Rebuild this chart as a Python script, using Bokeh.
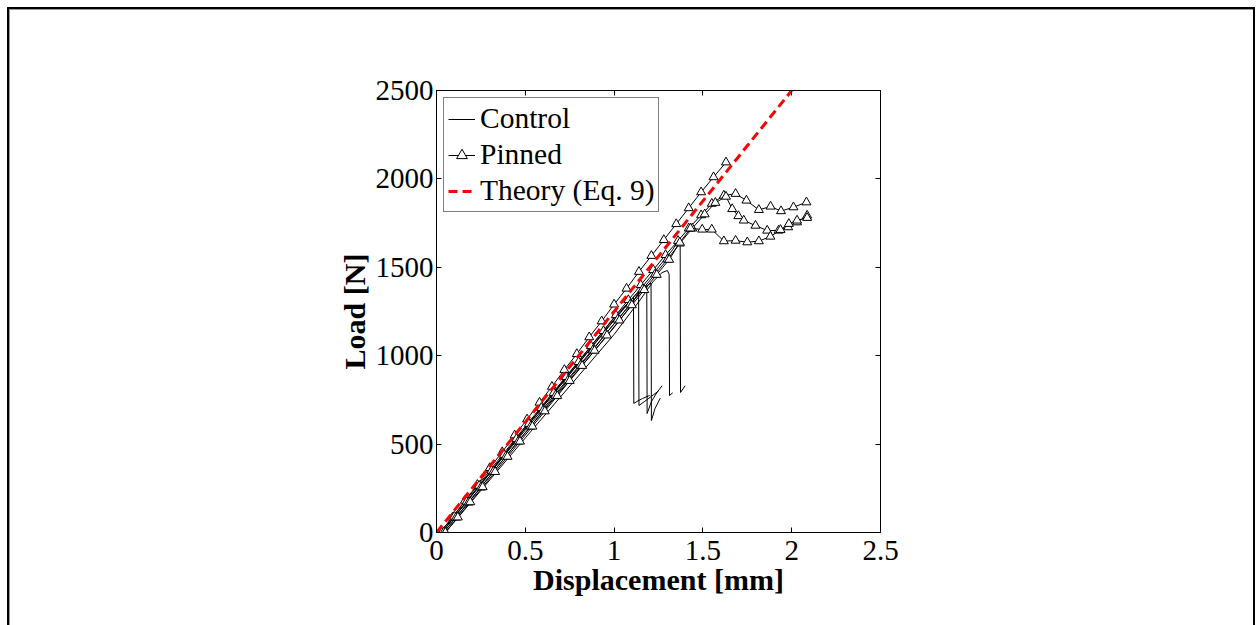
from bokeh.plotting import figure
from bokeh.embed import file_html
from bokeh.resources import INLINE
from bokeh.models import Range1d, LinearAxis, FixedTicker, Legend, LegendItem

# ---------------- data ----------------
x_ticks = [0, 0.5, 1, 1.5, 2, 2.5]
x_tick_labels = ["0", "0.5", "1", "1.5", "2", "2.5"]
y_ticks = [0, 500, 1000, 1500, 2000, 2500]
y_tick_labels = ["0", "500", "1000", "1500", "2000", "2500"]

# Control specimens (plain lines)
c1_x = [0, 0.03, 0.50, 1.00, 1.09, 1.109, 1.111, 1.13, 1.16, 1.20]
c1_y = [0, 0, 590, 1205, 1310, 1329, 730, 742, 758, 775]
c2_x = [0, 0.04, 0.50, 1.00, 1.10, 1.138, 1.140, 1.17, 1.21, 1.25]
c2_y = [0, 0, 565, 1160, 1290, 1360, 718, 740, 770, 800]
c3_x = [0, 0.03, 0.50, 1.00, 1.12, 1.184, 1.186, 1.21, 1.24, 1.27]
c3_y = [0, 0, 580, 1180, 1325, 1395, 673, 740, 790, 830]
c4_x = [0, 0.02, 0.50, 1.00, 1.15, 1.208, 1.210, 1.23, 1.26]
c4_y = [0, 0, 600, 1215, 1375, 1410, 633, 700, 760]
c5_x = [0, 0.05, 0.50, 1.00, 1.15, 1.22, 1.27, 1.30, 1.31, 1.312, 1.33]
c5_y = [0, 0, 535, 1120, 1320, 1420, 1470, 1482, 1460, 775, 790]
c6_x = [0, 0.03, 0.50, 1.00, 1.20, 1.33, 1.355, 1.372, 1.374, 1.40]
c6_y = [0, 0, 590, 1200, 1440, 1600, 1642, 1635, 792, 830]
control_x = [c1_x, c2_x, c3_x, c4_x, c5_x, c6_x]
control_y = [c1_y, c2_y, c3_y, c4_y, c5_y, c6_y]

# Pinned specimens (lines with triangle markers)
p1_x = [0.02, 0.09, 0.16, 0.23, 0.30, 0.37, 0.44, 0.51, 0.58, 0.65, 0.72, 0.79,
        0.86, 0.93, 1.00, 1.07, 1.14, 1.21, 1.28, 1.35, 1.42, 1.49, 1.56, 1.63]
p1_y = [0, 85, 180, 270, 365, 455, 550, 640, 735, 825, 920, 1010,
        1105, 1195, 1290, 1380, 1475, 1565, 1655, 1745, 1835, 1925, 2010, 2094]
p2_x = [0.03, 0.10, 0.17, 0.24, 0.31, 0.38, 0.45, 0.52, 0.59, 0.66, 0.73, 0.80,
        0.87, 0.94, 1.01, 1.08, 1.15, 1.22, 1.29, 1.36, 1.42, 1.49, 1.55, 1.618,
        1.684, 1.745, 1.815, 1.881, 1.94, 2.01, 2.083]
p2_y = [0, 90, 175, 265, 350, 440, 530, 615, 705, 790, 880, 965,
        1055, 1140, 1230, 1315, 1400, 1485, 1570, 1650, 1720, 1795, 1860, 1906,
        1916, 1878, 1825, 1844, 1818, 1840, 1868]
p3_x = [0.04, 0.11, 0.18, 0.25, 0.32, 0.39, 0.46, 0.53, 0.60, 0.67, 0.74, 0.81,
        0.88, 0.95, 1.02, 1.09, 1.16, 1.23, 1.30, 1.37, 1.44, 1.51, 1.57, 1.63,
        1.665, 1.70, 1.73, 1.796, 1.862, 1.926, 1.98, 2.03, 2.087]
p3_y = [0, 85, 170, 255, 345, 430, 515, 600, 690, 775, 860, 945,
        1030, 1120, 1205, 1290, 1375, 1460, 1545, 1635, 1720, 1800, 1865, 1900,
        1830, 1790, 1765, 1736, 1708, 1708, 1727, 1755, 1793]
p4_x = [0.05, 0.12, 0.19, 0.26, 0.33, 0.40, 0.47, 0.54, 0.61, 0.68, 0.75, 0.82,
        0.89, 0.96, 1.03, 1.10, 1.17, 1.24, 1.31, 1.37, 1.43, 1.496, 1.55, 1.618,
        1.684, 1.75, 1.815, 1.88, 1.937, 1.984, 2.03, 2.087]
p4_y = [0, 86, 172, 257, 343, 429, 515, 600, 686, 772, 858, 943,
        1029, 1115, 1200, 1286, 1372, 1458, 1543, 1640, 1720, 1714, 1714, 1648,
        1651, 1642, 1648, 1674, 1712, 1746, 1765, 1780]
pinned_x = [p1_x, p2_x, p3_x, p4_x]
pinned_y = [p1_y, p2_y, p3_y, p4_y]

# Theory (Eq. 9)
theory_x = [0, 2.0]
theory_y = [0, 2500]

# ---------------- figure ----------------
FONT = "Liberation Serif"

p = figure(width=1259, height=625,
           x_range=Range1d(0, 2.5), y_range=Range1d(0, 2500),
           output_backend="svg", toolbar_location=None,
           min_border_left=436, min_border_right=379,
           min_border_top=90, min_border_bottom=93,
           background_fill_color="white", border_fill_color=None)
# outer picture frame (left, top and right edges) drawn behind the canvas
p.styles = {
    "background":
        "linear-gradient(#000,#000) 7px 7px / 2px 100% no-repeat, "
        "linear-gradient(#000,#000) 1253px 7px / 2px 100% no-repeat, "
        "linear-gradient(#000,#000) 7px 7px / 1248px 2px no-repeat, "
        "linear-gradient(#999,#999) 9px 9px / 1px 100% no-repeat, "
        "linear-gradient(#999,#999) 9px 9px / 1244px 1px no-repeat, "
        "white"
}
p.xgrid.visible = False
p.ygrid.visible = False
p.outline_line_color = "black"
p.outline_line_width = 1


def style_axis(ax, ticks, labels, show_labels=True, standoff=3):
    ax.ticker = FixedTicker(ticks=ticks)
    ax.major_label_overrides = {t: l for t, l in zip(ticks, labels)}
    ax.major_tick_in = 5
    ax.major_tick_out = 0
    ax.minor_tick_line_color = None
    ax.axis_line_color = "black"
    ax.major_tick_line_color = "black"
    ax.major_label_text_font = FONT
    ax.major_label_text_font_size = "29px"
    ax.major_label_text_color = "black" if show_labels else None
    ax.major_label_standoff = standoff


style_axis(p.xaxis[0], x_ticks, x_tick_labels, standoff=8)
style_axis(p.yaxis[0], y_ticks, y_tick_labels, standoff=3)
p.xaxis[0].axis_label = "Displacement [mm]"
p.yaxis[0].axis_label = "Load [N]"
for ax in (p.xaxis[0], p.yaxis[0]):
    ax.axis_label_text_font = FONT
    ax.axis_label_text_font_size = "30px"
    ax.axis_label_text_font_style = "bold"
    ax.axis_label_text_color = "black"
p.xaxis[0].axis_label_standoff = 0
p.yaxis[0].axis_label_standoff = 2

top_ax = LinearAxis()
style_axis(top_ax, x_ticks, x_tick_labels, show_labels=False)
p.add_layout(top_ax, "above")
right_ax = LinearAxis()
style_axis(right_ax, y_ticks, y_tick_labels, show_labels=False)
p.add_layout(right_ax, "right")

control_rs = []
for xs, ys in zip(control_x, control_y):
    control_rs.append(p.line(xs, ys, line_color="black", line_width=1))

pin_line_rs = []
pin_mark_rs = []
for xs, ys in zip(pinned_x, pinned_y):
    pin_line_rs.append(p.line(xs, ys, line_color="black", line_width=1))
    pin_mark_rs.append(p.scatter(xs, ys, marker="triangle", size=9,
                                 fill_color="white", line_color="black",
                                 line_width=1))

theory_r = p.line(theory_x, theory_y, line_color="#ff0000", line_width=3,
                  line_dash="9 5")

legend = Legend(items=[
    LegendItem(label="Control", renderers=[control_rs[0]]),
    LegendItem(label="Pinned", renderers=[pin_line_rs[0], pin_mark_rs[0]]),
    LegendItem(label="Theory (Eq. 9)", renderers=[theory_r]),
], location="top_left")
legend.margin = 7
legend.padding = 4
legend.spacing = 3
legend.label_height = 30
legend.glyph_height = 30
legend.glyph_width = 27
legend.label_standoff = 5
legend.label_text_font = FONT
legend.label_text_font_size = "29.5px"
legend.label_text_color = "black"
legend.border_line_color = "black"
legend.border_line_width = 1
legend.background_fill_color = "white"
legend.background_fill_alpha = 1
p.add_layout(legend)

open("out.html", "w").write(file_html(p, INLINE))
